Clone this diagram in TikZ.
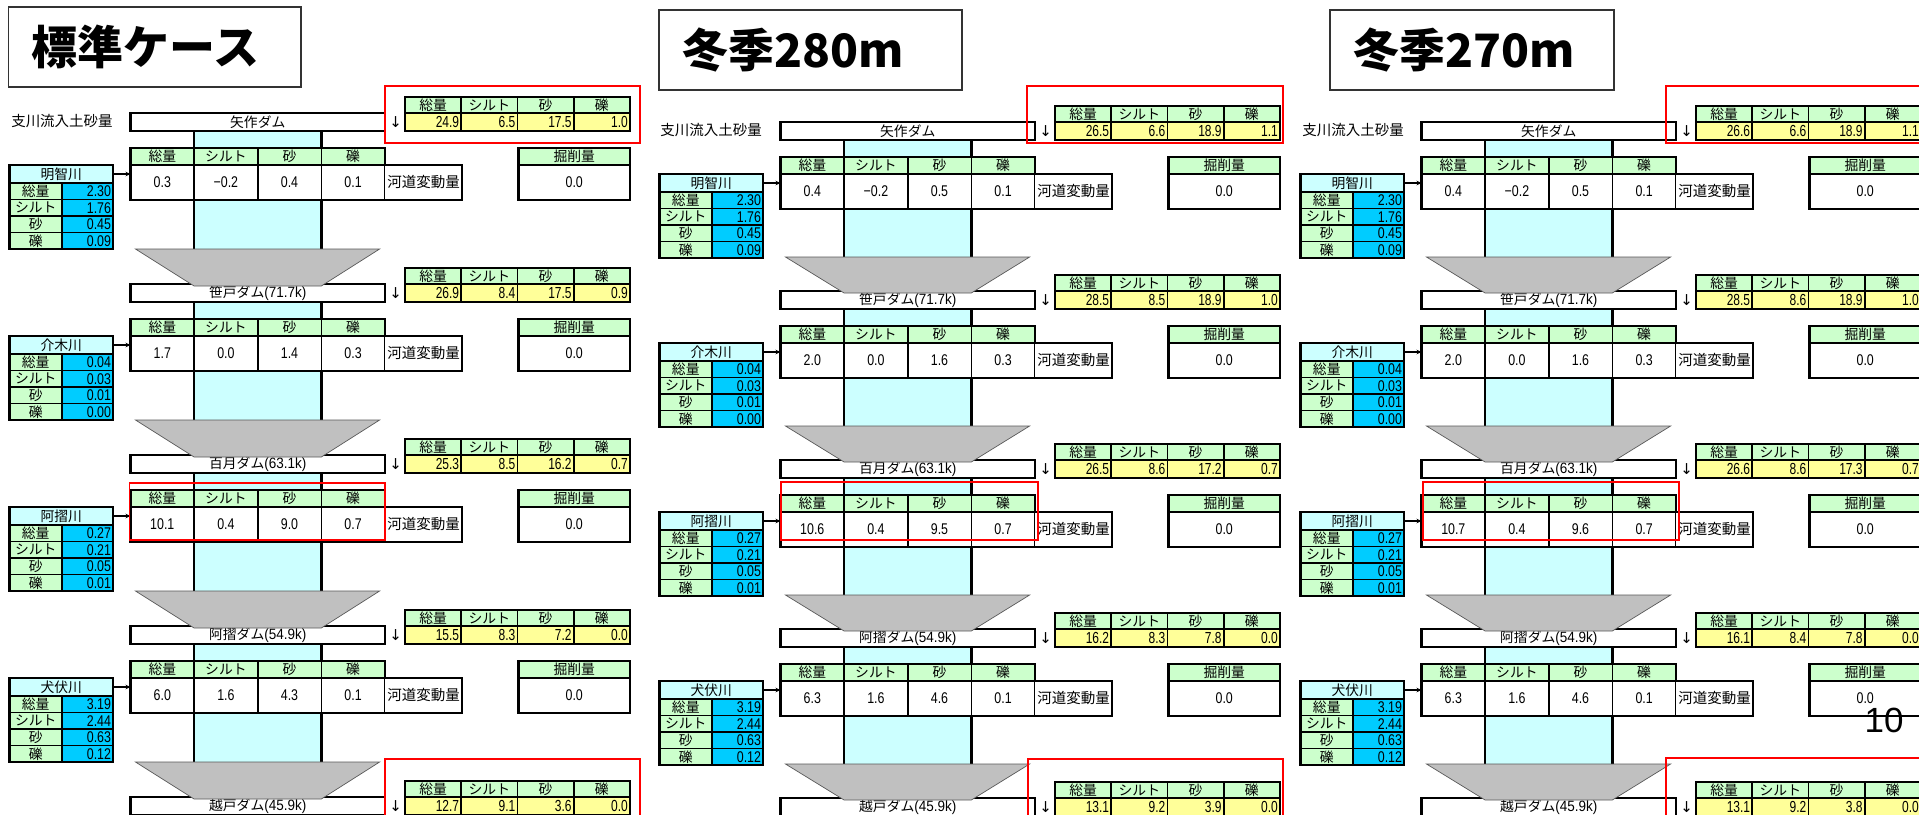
\documentclass[tikz,border=0pt]{standalone}
\usepackage{fontspec}
\setmainfont{Liberation Sans}
\newfontfamily\jp{Noto Sans CJK JP}
\newfontfamily\nar[FakeStretch=0.8]{Liberation Sans}
\newfontfamily\pnar[FakeStretch=0.9]{Liberation Sans}
\newfontfamily\ynar[FakeStretch=0.75]{Liberation Sans}
\newfontfamily\dv{DejaVu Sans}
\usetikzlibrary{arrows.meta}
\definecolor{hgreen}{HTML}{CCFFCC}
\definecolor{ylw}{HTML}{FFFF99}
\definecolor{lcyan}{HTML}{CCFFFF}
\definecolor{bcyan}{HTML}{00CCFF}
\definecolor{fgray}{HTML}{C0C0C0}
\newcommand\tabjp{\jp\fontsize{13.8pt}{14pt}\selectfont}
\newcommand\mainnum{\nar\fontsize{15.5pt}{16pt}\selectfont}
\newcommand\ynum{\ynar\fontsize{16pt}{16pt}\selectfont}
\newcommand\tnum{\nar\fontsize{15.5pt}{16pt}\selectfont}
\newcommand\titlefont{\jp\bfseries\fontsize{46pt}{48pt}\selectfont}
\newcommand\km[1]{{\pnar\fontsize{15pt}{15pt}\selectfont(#1k)}}
\tikzset{
  cellb/.style={inner sep=0pt, outer sep=0pt, anchor=north west, draw=black, line width=1.6pt},
  hdr/.style={cellb, fill=hgreen, font=\tabjp},
  ycell/.style={cellb, fill=ylw, font=\ynum},
  wcell/.style={cellb, fill=white, font=\mainnum},
  tcy/.style={cellb, fill=lcyan, font=\tabjp},
  bcy/.style={cellb, fill=bcyan, font=\tnum},
  obord/.style={line width=2.6pt, draw=black},
  funnelsty/.style={fill=fgray, draw=black!65, line width=0.7pt},
  redbox/.style={draw=red, line width=1.6pt},
  conn/.style={line width=1.3pt, -{Stealth[length=5pt,width=4.5pt]}},
  titlebox/.style={draw=black!80, line width=1.6pt, inner sep=0pt, outer sep=0pt, anchor=north west},
}
% ---------- building blocks ----------
\newcommand\channel[3]{% ox y0 ftop
  \path[fill=lcyan] ({#1+194.1},{#2+18}) rectangle ({#1+321.3},{#2+#3});
  \draw[obord] ({#1+194.1},{#2+18}) -- ({#1+194.1},{#2+#3})
               ({#1+321.3},{#2+18}) -- ({#1+321.3},{#2+#3});
}
\newcommand\funnel[4]{% ox y0 ftop period
  \draw[funnelsty] ({#1+135.5},{#2+#3}) -- ({#1+379.6},{#2+#3}) -- ({#1+321.3},{#2+#4+2}) -- ({#1+194.1},{#2+#4+2}) -- cycle;
}
\newcommand\damrow[8]{% id ox y0 damtext v1..v4
  \node[cellb, fill=white, line width=2.6pt, minimum width=254.5pt, minimum height=18pt, font=\tabjp] (#1dam) at ({#2+130.5},{#3}) {#4};
  \node[font=\dv\fontsize{15pt}{15pt}\selectfont, inner sep=0pt] (#1down) at ({#2+395.6},{#3+9}) {↓};
  \foreach \k/\lab/\val in {0/総量/#5, 1/シルト/#6, 2/砂/#7, 3/礫/#8} {
    \node[hdr, minimum width=56.25pt, minimum height=16pt] (#1yh\k) at ({#2+405+56.25*\k},{#3-16}) {\lab};
    \node[ycell, minimum width=56.25pt, minimum height=18pt] (#1yd\k) at ({#2+405+56.25*\k},{#3}) {\makebox[52pt][r]{\val}};
  }
  \draw[obord] (#1yh0.north west) rectangle (#1yd3.south east);
}
\newcommand\maintab[7]{% id ox y0 v1..v4
  \foreach \k/\lab/\val in {0/総量/#4, 1/シルト/#5, 2/砂/#6, 3/礫/#7} {
    \node[hdr, minimum width=63.6pt, minimum height=17pt] (#1mh\k) at ({#2+130.5+63.6*\k},{#3+35}) {\lab};
    \node[wcell, minimum width=63.6pt, minimum height=35pt] (#1md\k) at ({#2+130.5+63.6*\k},{#3+52}) {\val};
  }
  \draw[obord] (#1mh0.north west) rectangle (#1md3.south east);
  \node[cellb, draw=none, fill=white, minimum width=77pt, minimum height=35pt, font=\jp\fontsize{14.5pt}{15pt}\selectfont] (#1kado) at ({#2+385},{#3+52}) {河道変動量};
  \draw[obord] (#1kado.north west) -- (#1kado.north east) -- (#1kado.south east) -- (#1kado.south west);
  \node[hdr, minimum width=111.5pt, minimum height=17pt] (#1kh) at ({#2+518.5},{#3+35}) {掘削量};
  \node[wcell, minimum width=111.5pt, minimum height=35pt] (#1kd) at ({#2+518.5},{#3+52}) {0.0};
  \draw[obord] (#1kh.north west) rectangle (#1kd.south east);
}
\newcommand\tribtab[8]{% id ox y0 name v1..v4
  \node[tcy, minimum width=103.5pt, minimum height=18pt] (#1th) at ({#2+9.5},{#3+52}) {#4};
  \foreach \k/\lab/\val in {0/総量/#5, 1/シルト/#6, 2/砂/#7, 3/礫/#8} {
    \node[hdr, minimum width=52.5pt, minimum height=16.5pt] (#1tl\k) at ({#2+9.5},{#3+70+16.5*\k}) {\lab};
    \node[bcy, minimum width=51pt, minimum height=16.5pt] (#1tv\k) at ({#2+62},{#3+70+16.5*\k}) {\makebox[47pt][r]{\val}};
  }
  \draw[obord] (#1th.north west) rectangle (#1tv3.south east);
  \draw[conn] (#1th.east) -- (#1th.east -| #1md0.west);
}
\begin{document}
\begin{tikzpicture}[x=1pt, y=-1pt]
\useasboundingbox (0,0) rectangle (1919,814);
\clip (0,0) rectangle (1919,814);
\fill[white] (0,0) rectangle (1919,814);

% ================= Panel 1 =================
\node[titlebox, minimum width=292.6pt, minimum height=80pt] (t1box) at (8.4,7) {};
\node[font=\titlefont, anchor=west, inner sep=0pt] (t1) at ([xshift=23pt]t1box.west) {標準ケース};
\node[font=\jp\fontsize{14.5pt}{15pt}\selectfont, inner sep=0pt] (s1lab) at (62,121) {支川流入土砂量};

\channel{0}{113}{136}
\channel{0}{284}{136}
\channel{0}{455}{136}
\channel{0}{626}{136}

\damrow{aA}{0}{113}{矢作ダム}{24.9}{6.5}{17.5}{1.0}
\damrow{aB}{0}{284}{笹戸ダム\km{71.7}}{26.9}{8.4}{17.5}{0.9}
\damrow{aC}{0}{455}{百月ダム\km{63.1}}{25.3}{8.5}{16.2}{0.7}
\damrow{aD}{0}{626}{阿摺ダム\km{54.9}}{15.5}{8.3}{7.2}{0.0}
\damrow{aE}{0}{797}{越戸ダム\km{45.9}}{12.7}{9.1}{3.6}{0.0}

\funnel{0}{113}{136}{171}
\funnel{0}{284}{136}{171}
\funnel{0}{455}{136}{171}
\funnel{0}{626}{136}{171}

\maintab{aA}{0}{113}{0.3}{−0.2}{0.4}{0.1}
\maintab{aB}{0}{284}{1.7}{0.0}{1.4}{0.3}
\maintab{aC}{0}{455}{10.1}{0.4}{9.0}{0.7}
\maintab{aD}{0}{626}{6.0}{1.6}{4.3}{0.1}

\tribtab{aA}{0}{113}{明智川}{2.30}{1.76}{0.45}{0.09}
\tribtab{aB}{0}{284}{介木川}{0.04}{0.03}{0.01}{0.00}
\tribtab{aC}{0}{455}{阿摺川}{0.27}{0.21}{0.05}{0.01}
\tribtab{aD}{0}{626}{犬伏川}{3.19}{2.44}{0.63}{0.12}

% ================= Panel 2 =================
\node[titlebox, minimum width=303pt, minimum height=80pt] (t2box) at (659,10) {};
\node[font=\titlefont, anchor=west, inner sep=0pt] (t2) at ([xshift=23pt]t2box.west) {冬季280m};
\node[font=\jp\fontsize{14.5pt}{15pt}\selectfont, inner sep=0pt] (s2lab) at (711,130) {支川流入土砂量};

\channel{650}{122}{135}
\channel{650}{291}{135}
\channel{650}{460}{135}
\channel{650}{629}{135}

\damrow{bA}{650}{122}{矢作ダム}{26.5}{6.6}{18.9}{1.1}
\damrow{bB}{650}{291}{笹戸ダム\km{71.7}}{28.5}{8.5}{18.9}{1.0}
\damrow{bC}{650}{460}{百月ダム\km{63.1}}{26.5}{8.6}{17.2}{0.7}
\damrow{bD}{650}{629}{阿摺ダム\km{54.9}}{16.2}{8.3}{7.8}{0.0}
\damrow{bE}{650}{798}{越戸ダム\km{45.9}}{13.1}{9.2}{3.9}{0.0}

\funnel{650}{122}{135}{169}
\funnel{650}{291}{135}{169}
\funnel{650}{460}{135}{169}
\funnel{650}{629}{135}{169}

\maintab{bA}{650}{122}{0.4}{−0.2}{0.5}{0.1}
\maintab{bB}{650}{291}{2.0}{0.0}{1.6}{0.3}
\maintab{bC}{650}{460}{10.6}{0.4}{9.5}{0.7}
\maintab{bD}{650}{629}{6.3}{1.6}{4.6}{0.1}

\tribtab{bA}{650}{122}{明智川}{2.30}{1.76}{0.45}{0.09}
\tribtab{bB}{650}{291}{介木川}{0.04}{0.03}{0.01}{0.00}
\tribtab{bC}{650}{460}{阿摺川}{0.27}{0.21}{0.05}{0.01}
\tribtab{bD}{650}{629}{犬伏川}{3.19}{2.44}{0.63}{0.12}

% ================= Panel 3 =================
\node[titlebox, minimum width=284pt, minimum height=80pt] (t3box) at (1330,10) {};
\node[font=\titlefont, anchor=west, inner sep=0pt] (t3) at ([xshift=23pt]t3box.west) {冬季270m};
\node[font=\jp\fontsize{14.5pt}{15pt}\selectfont, inner sep=0pt] (s3lab) at (1353,130) {支川流入土砂量};

\channel{1291}{122}{135}
\channel{1291}{291}{135}
\channel{1291}{460}{135}
\channel{1291}{629}{135}

\damrow{cA}{1291}{122}{矢作ダム}{26.6}{6.6}{18.9}{1.1}
\damrow{cB}{1291}{291}{笹戸ダム\km{71.7}}{28.5}{8.6}{18.9}{1.0}
\damrow{cC}{1291}{460}{百月ダム\km{63.1}}{26.6}{8.6}{17.3}{0.7}
\damrow{cD}{1291}{629}{阿摺ダム\km{54.9}}{16.1}{8.4}{7.8}{0.0}
\damrow{cE}{1291}{798}{越戸ダム\km{45.9}}{13.1}{9.2}{3.8}{0.0}

\funnel{1291}{122}{135}{169}
\funnel{1291}{291}{135}{169}
\funnel{1291}{460}{135}{169}
\funnel{1291}{629}{135}{169}

\maintab{cA}{1291}{122}{0.4}{−0.2}{0.5}{0.1}
\maintab{cB}{1291}{291}{2.0}{0.0}{1.6}{0.3}
\maintab{cC}{1291}{460}{10.7}{0.4}{9.6}{0.7}
\maintab{cD}{1291}{629}{6.3}{1.6}{4.6}{0.1}

\tribtab{cA}{1291}{122}{明智川}{2.30}{1.76}{0.45}{0.09}
\tribtab{cB}{1291}{291}{介木川}{0.04}{0.03}{0.01}{0.00}
\tribtab{cC}{1291}{460}{阿摺川}{0.27}{0.21}{0.05}{0.01}
\tribtab{cD}{1291}{629}{犬伏川}{3.19}{2.44}{0.63}{0.12}

% ================= red highlight boxes =================
\draw[redbox] (385,86) rectangle (640,143);
\draw[redbox] (1027,86) rectangle (1283,143);
\draw[redbox] (1666,86) rectangle (1930,143);
\draw[redbox] (129.6,483) rectangle (385,540);
\draw[redbox] (781,482) rectangle (1038,540);
\draw[redbox] (1423,482) rectangle (1679,540);
\draw[redbox] (385,759) rectangle (640,830);
\draw[redbox] (1028,759) rectangle (1283,830);
\draw[redbox] (1666,758) rectangle (1930,830);

% page number
\node[font=\fontsize{35pt}{36pt}\selectfont, inner sep=0pt] (pagenum) at (1884,720) {10};
\end{tikzpicture}
\end{document}
